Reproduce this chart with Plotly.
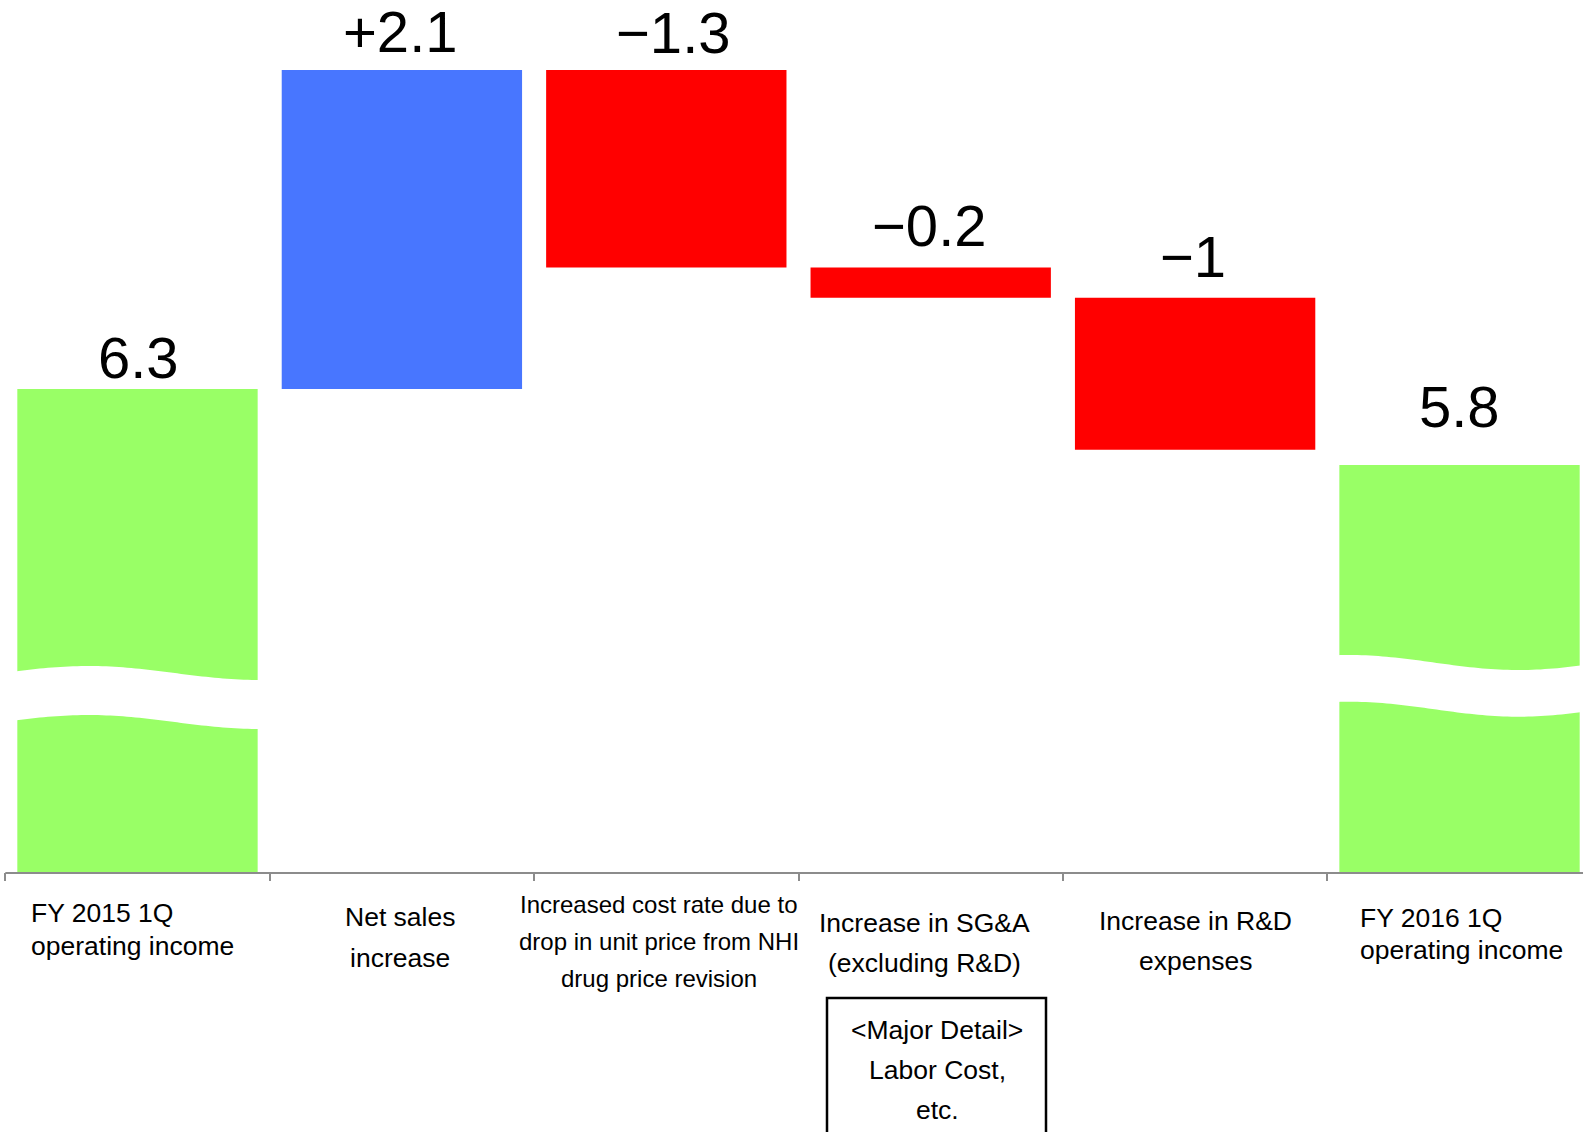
import numpy as np
import plotly.graph_objects as go

# ---- data -------------------------------------------------------------
category_lines = [
    ["FY 2015 1Q", "operating income"],
    ["Net sales", "increase"],
    ["Increased cost rate due to", "drop in unit price from NHI", "drug price revision"],
    ["Increase in SG&A", "(excluding R&D)"],
    ["Increase in R&D", "expenses"],
    ["FY 2016 1Q", "operating income"],
]
measures = ["absolute", "relative", "relative", "relative", "relative", "absolute"]
values = [6.3, 2.1, -1.3, -0.2, -1.0, 5.8]
detail_lines = ["<Major Detail>", "Labor Cost,", "etc."]

# ---- layout constants ---------------------------------------------------
W, H = 1583, 1132
PLOT_H = 872                      # plot area height in px (top margin 0)
Y0, Y1 = 3.1203, 8.8609           # visible value window (axis is broken)
X0, X1 = -0.52, 5.467
BAR_W = 0.909

GREEN = "#99FF66"
BLUE = "#4876FF"
RED = "#FF0000"
AXIS_GREY = "#8c8c8c"
LABEL_FONT = "Liberation Sans, Arial, sans-serif"
VALUE_FONT = "Liberation Sans Narrow, Arial Narrow, Liberation Sans, sans-serif"


def px_to_val(py):
    return Y1 - py * (Y1 - Y0) / PLOT_H


def px_to_paper_y(py):
    return (PLOT_H - py) / PLOT_H


# ---- running totals for label placement -------------------------------
tops = []
running = 0.0
for m, v in zip(measures, values):
    if m == "absolute":
        running = v
        tops.append(v)
    else:
        start, running = running, running + v
        tops.append(max(start, running))


def fmt(m, v):
    s = f"{abs(v):g}"
    if m == "absolute":
        return s
    return ("+" if v >= 0 else "\u2212") + s


x_idx = list(range(len(values)))

fig = go.Figure(
    go.Waterfall(
        x=x_idx,
        y=values,
        measure=measures,
        width=BAR_W,
        connector=dict(visible=False),
        increasing=dict(marker=dict(color=BLUE, line=dict(width=0))),
        decreasing=dict(marker=dict(color=RED, line=dict(width=0))),
        totals=dict(marker=dict(color=GREEN, line=dict(width=0))),
        hoverinfo="skip",
        showlegend=False,
    )
)

# ---- axis-break bands on the two total bars ----------------------------
# (bar index, centre px, amplitude px, phase offset, phase period, gap px)
breaks = [
    (0, 673.0, 7.0, 0.0714, 0.70, 49.0),
    (5, 662.5, 7.5, 0.4275, 0.69, 46.7),
]
shapes = []
for bi, c, a, ph, per, gap in breaks:
    u = np.linspace(0, 1, 60)
    xs = bi - BAR_W / 2 - 0.01 + u * (BAR_W + 0.02)
    top_px = c - a * np.sin(np.pi * (ph + u / per))
    bot_px = top_px + gap
    pts = [(x, px_to_val(p)) for x, p in zip(xs, top_px)]
    pts += [(x, px_to_val(p)) for x, p in zip(xs[::-1], bot_px[::-1])]
    path = "M " + " L ".join(f"{x:.4f},{y:.4f}" for x, y in pts) + " Z"
    shapes.append(dict(type="path", path=path, xref="x", yref="y",
                       fillcolor="white", line=dict(width=0), layer="above"))

# baseline of the category axis
shapes.append(dict(type="line", xref="paper", yref="paper",
                   x0=5.3 / W, x1=1.0, y0=px_to_paper_y(873), y1=px_to_paper_y(873),
                   line=dict(color=AXIS_GREY, width=2)))

# detail box under the SG&A category
shapes.append(dict(type="rect", xref="paper", yref="paper",
                   x0=827 / W, x1=1046 / W,
                   y0=px_to_paper_y(998), y1=px_to_paper_y(1145),
                   line=dict(color="black", width=2.5), fillcolor="rgba(0,0,0,0)"))

annotations = []

# value labels above each bar: (x nudge px, lift of baseline above bar px)
VALUE_SIZE = 58
label_nudge = [(1, 11), (-1.4, 18.5), (7, 17), (-1, 22), (-2, 21.5), (0, 38)]
for i, (m, v, t) in enumerate(zip(measures, values, tops)):
    dx, lift = label_nudge[i]
    annotations.append(dict(
        x=i, y=t, xref="x", yref="y", text=fmt(m, v), showarrow=False,
        xanchor="center", yanchor="bottom", xshift=dx,
        yshift=lift - 0.212 * VALUE_SIZE,
        borderpad=0, borderwidth=0,
        font=dict(family=VALUE_FONT, size=VALUE_SIZE, color="black"),
    ))


def text_line(text, x_px, baseline_px, size, xanchor="center"):
    return dict(
        x=x_px / W, y=px_to_paper_y(baseline_px + 0.212 * size),
        xref="paper", yref="paper", text=text, showarrow=False,
        xanchor=xanchor, yanchor="bottom", borderpad=0, borderwidth=0,
        font=dict(family=LABEL_FONT, size=size, color="black"),
    )


# category labels: (x px, anchor, font size, baselines px)
label_layout = [
    (31, "left", 26.5, [922, 955]),
    (400, "center", 26.5, [926, 967]),
    (659, "center", 24, [913, 950, 987]),
    (925, "center", 26.5, [932, 972]),
    (1195, "center", 26.5, [930, 970]),
    (1360, "left", 26.5, [927, 959]),
]
for lines, (xp, anc, size, bases) in zip(category_lines, label_layout):
    for line, b in zip(lines, bases):
        annotations.append(text_line(line, xp, b, size, anc))

for line, b in zip(detail_lines, [1039, 1079, 1119]):
    annotations.append(text_line(line, 937, b, 26.5))

fig.update_layout(
    width=W, height=H,
    margin=dict(l=0, r=0, t=0, b=H - PLOT_H, pad=0),
    paper_bgcolor="white", plot_bgcolor="white",
    showlegend=False,
    xaxis=dict(range=[X0, X1], tickmode="array",
               tickvals=[i - 0.5 for i in range(len(values))],
               ticks="outside", ticklen=8, tickwidth=2, tickcolor=AXIS_GREY,
               showticklabels=False, showgrid=False, zeroline=False,
               showline=False, fixedrange=True),
    yaxis=dict(range=[Y0, Y1], visible=False, showgrid=False,
               zeroline=False, fixedrange=True),
    shapes=shapes,
    annotations=annotations,
)

fig.write_html("out.html", config={"displayModeBar": False})
